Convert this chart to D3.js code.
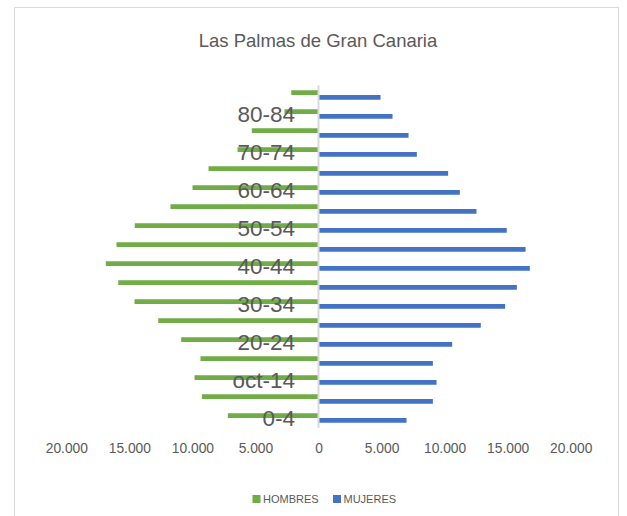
<!DOCTYPE html>
<html>
<head>
<meta charset="utf-8">
<script src="https://cdnjs.cloudflare.com/ajax/libs/d3/7.8.5/d3.min.js"></script>
<style>
    body { margin: 0; background: #fff; }
    text { font-family: "Liberation Sans", Arial, sans-serif; fill: #595959; }
</style>
</head>
<body>
<div class="drawingArea"></div>
<script>
//Age groups, bottom to top
var ageGroups = ["0-4", "5-9", "oct-14", "15-19", "20-24", "25-29", "30-34", "35-39", "40-44",
    "45-49", "50-54", "55-59", "60-64", "65-69", "70-74", "75-79", "80-84", "85+"];

var hombres = [7190, 9250, 9830, 9360, 10890, 12710, 14590, 15880, 16870,
    16020, 14570, 11740, 9990, 8720, 6420, 5290, 2700, 2160];

var mujeres = [6980, 9070, 9360, 9070, 10600, 12870, 14800, 15730, 16760,
    16420, 14930, 12530, 11210, 10280, 7800, 7140, 5870, 4920];

var tickValues = [-20000, -15000, -10000, -5000, 0, 5000, 10000, 15000, 20000];

var seriesNames = ["HOMBRES", "MUJERES"];
var seriesColors = ["#70ad47", "#4472c4"];

var width = 627;
var height = 516;

var svg = d3.select(".drawingArea").append("svg:svg")
    .attr("width", width)
    .attr("height", height);

//Chart border
svg.append("rect")
    .attr("x", 14.5)
    .attr("y", 7.5)
    .attr("width", 604)
    .attr("height", 520)
    .attr("fill", "none")
    .attr("stroke", "#d9d9d9")
    .attr("stroke-width", 1);

//Title
svg.append("text")
    .attr("x", 318)
    .attr("y", 47)
    .attr("text-anchor", "middle")
    .style("font-size", "18.5px")
    .text("Las Palmas de Gran Canaria");

var x = d3.scaleLinear().domain([-20000, 20000]).range([66.3, 570.7]);
var y = d3.scaleBand().domain(ageGroups.slice().reverse()).range([85.5, 427.5]).padding(0);
var ySeries = d3.scaleBand().domain(seriesNames).range([y.step() * 0.25, y.step() * 0.75]);

var rows = ageGroups.map(function (d, i) {
    return { age: d, hombres: hombres[i], mujeres: mujeres[i] };
});

//Men to the left
svg.append("g").selectAll("rect")
    .data(rows)
    .enter()
    .append("rect")
    .attr("x", function (d) { return x(-d.hombres); })
    .attr("y", function (d) { return y(d.age) + ySeries("HOMBRES"); })
    .attr("width", function (d) { return x(0) - x(-d.hombres); })
    .attr("height", ySeries.bandwidth())
    .attr("fill", seriesColors[0]);

//Women to the right
svg.append("g").selectAll("rect")
    .data(rows)
    .enter()
    .append("rect")
    .attr("x", x(0))
    .attr("y", function (d) { return y(d.age) + ySeries("MUJERES"); })
    .attr("width", function (d) { return x(d.mujeres) - x(0); })
    .attr("height", ySeries.bandwidth())
    .attr("fill", seriesColors[1]);

//Vertical axis line
svg.append("line")
    .attr("x1", x(0))
    .attr("x2", x(0))
    .attr("y1", 85.5)
    .attr("y2", 428)
    .attr("stroke", "#d9d9d9")
    .attr("stroke-width", 2);

//Age labels, every other group
svg.append("g").selectAll("text")
    .data(ageGroups.filter(function (d, i) { return i % 2 === 0; }))
    .enter()
    .append("text")
    .attr("x", 295)
    .attr("y", function (d) { return y(d) + y.bandwidth() / 2 + 8; })
    .attr("text-anchor", "end")
    .style("font-size", "22.5px")
    .text(function (d) { return d; });

//Bottom value axis
var fmt = d3.formatLocale({ decimal: ",", thousands: ".", grouping: [3], currency: ["", ""] }).format(",d");
var xAxis = d3.axisBottom(x)
    .tickValues(tickValues)
    .tickSize(0)
    .tickPadding(0)
    .tickFormat(function (d) { return fmt(Math.abs(d)); });

var axisG = svg.append("g")
    .attr("transform", "translate(0, 441)")
    .call(xAxis);
axisG.select(".domain").remove();
axisG.selectAll("text")
    .attr("dy", null)
    .attr("y", 12)
    .style("font-size", "13.8px")
    .style("font-family", "'Liberation Sans', Arial, sans-serif")
    .attr("fill", "#595959");

//Legend
var legendX = [252.5, 333];
var legend = svg.append("g").selectAll("g")
    .data(seriesNames)
    .enter()
    .append("g")
    .attr("transform", function (d, i) { return "translate(" + legendX[i] + ", 495)"; });

legend.append("rect")
    .attr("width", 8)
    .attr("height", 8)
    .attr("fill", function (d, i) { return seriesColors[i]; });

legend.append("text")
    .attr("x", 10.5)
    .attr("y", 8)
    .style("font-size", "11px")
    .text(function (d) { return d; });
</script>
</body>
</html>
